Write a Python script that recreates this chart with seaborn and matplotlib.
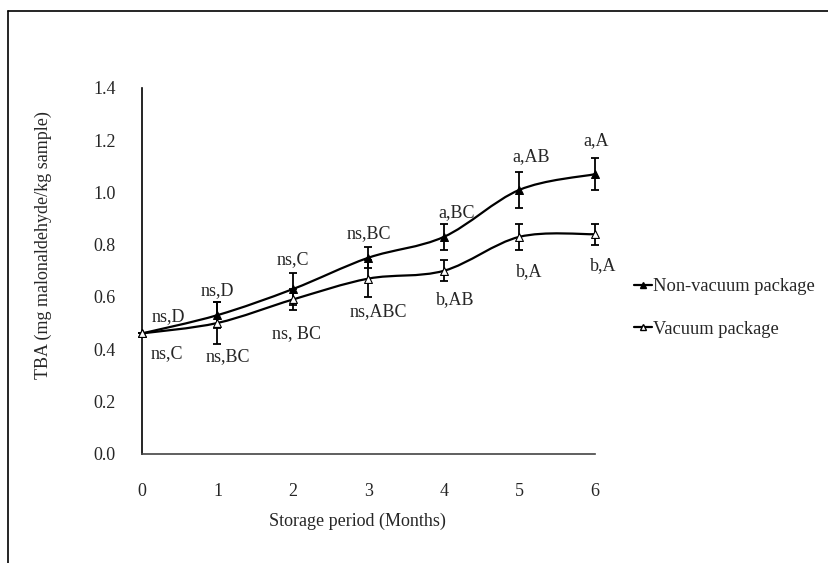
import numpy as np
import pandas as pd
import seaborn as sns
import matplotlib.pyplot as plt
from matplotlib.path import Path
from matplotlib.patches import PathPatch
from matplotlib.lines import Line2D

months = [0, 1, 2, 3, 4, 5, 6]
non_vacuum = [0.46, 0.53, 0.63, 0.75, 0.83, 1.01, 1.07]
non_vacuum_err = [0.0, 0.05, 0.06, 0.04, 0.05, 0.07, 0.06]
vacuum = [0.46, 0.50, 0.59, 0.67, 0.70, 0.83, 0.84]
vacuum_err = [0.0, 0.08, 0.04, 0.07, 0.04, 0.05, 0.04]
non_vacuum_labels = ['ns,D', 'ns,D', 'ns,C', 'ns,BC', 'a,BC', 'a,AB', 'a,A']
vacuum_labels = ['ns,C', 'ns,BC', 'ns, BC', 'ns,ABC', 'b,AB', 'b,A', 'b,A']

# label offsets in pixels from each point
nv_off = [(26, 17), (0, 25), (0, 29), (0, 24), (13, 24), (12, 33), (1, 34)]
v_off = [(25, -20), (10, -34), (4, -34), (10, -33), (11, -29), (10, -35), (8, -31)]

df = pd.DataFrame({'Month': months * 2,
                   'TBA': non_vacuum + vacuum,
                   'Package': ['Non-vacuum package'] * 7 + ['Vacuum package'] * 7})

sns.set_style('white')
plt.rcParams['font.family'] = ['Liberation Serif', 'DejaVu Serif']

fig = plt.figure(figsize=(8.29, 5.63), dpi=100)
ax = fig.add_axes([142 / 829, 1 - 453.5 / 563, (595 - 142) / 829, (453.5 - 88) / 563])


def smooth_path(x, y):
    # excel-like smoothed line (bezier through the points)
    p = np.column_stack([x, y]).astype(float)
    pp = np.vstack([p[0], p, p[-1]])
    verts = [p[0]]
    codes = [Path.MOVETO]
    for i in range(len(p) - 1):
        c1 = pp[i + 1] + (pp[i + 2] - pp[i]) / 6
        c2 = pp[i + 2] - (pp[i + 3] - pp[i + 1]) / 6
        verts += [c1, c2, pp[i + 2]]
        codes += [Path.CURVE4] * 3
    return Path(verts, codes)


for yv in [non_vacuum, vacuum]:
    ax.add_patch(PathPatch(smooth_path(months, yv), fill=False, edgecolor='black', lw=1.6, zorder=2, clip_on=False))

for yv, ye in [(non_vacuum, non_vacuum_err), (vacuum, vacuum_err)]:
    eb = ax.errorbar(months, yv, yerr=ye, fmt='none', ecolor='black', elinewidth=1.3, capsize=3, capthick=1.3, zorder=3)
    for art in eb.lines[1] + eb.lines[2]:
        art.set_clip_on(False)

sns.scatterplot(data=df[df.Package == 'Non-vacuum package'], x='Month', y='TBA', marker='^', color='black',
                edgecolor='black', s=32, linewidth=0.8, ax=ax, zorder=4, legend=False, clip_on=False)
sns.scatterplot(data=df[df.Package == 'Vacuum package'], x='Month', y='TBA', marker='^', color='white',
                edgecolor='black', s=32, linewidth=0.8, ax=ax, zorder=4, legend=False, clip_on=False)

for i in range(7):
    ax.annotate(non_vacuum_labels[i], (months[i], non_vacuum[i]), xytext=nv_off[i], textcoords='offset pixels',
                ha='center', va='center', fontsize=13)
    ax.annotate(vacuum_labels[i], (months[i], vacuum[i]), xytext=v_off[i], textcoords='offset pixels',
                ha='center', va='center', fontsize=13)

ax.set_xlim(0, 6)
ax.set_ylim(0, 1.4)
ax.set_xticks(months)
ax.set_yticks(np.arange(0, 1.41, 0.2))
ax.set_yticklabels([f'{v:.1f}' for v in np.arange(0, 1.41, 0.2)])
for s in ['top', 'right']:
    ax.spines[s].set_visible(False)
for s in ['left', 'bottom']:
    ax.spines[s].set_linewidth(1.2)
    ax.spines[s].set_color('black')
ax.spines['bottom'].set_color('#444444')
ax.tick_params(axis='y', direction='out', length=7, width=1.2, pad=12, labelsize=13)
ax.tick_params(axis='x', direction='out', length=7, width=1.2, pad=14, labelsize=13)
ax.set_xlabel('Storage period (Months)', fontsize=13)
ax.set_ylabel('TBA (mg malonaldehyde/kg sample)', fontsize=13)
ax.xaxis.set_label_coords((357 - 142) / (595 - 142), -(513 - 453.5) / (453.5 - 88))
ax.yaxis.set_label_coords(-(142 - 52) / (595 - 142), (453.5 - 245) / (453.5 - 88))

handles = [Line2D([], [], color='black', lw=1.6, marker='^', markersize=5, markerfacecolor='black'),
           Line2D([], [], color='black', lw=1.6, marker='^', markersize=5, markerfacecolor='white')]
fig.legend(handles, ['Non-vacuum package', 'Vacuum package'], loc='center left',
           bbox_to_anchor=(634 / 829, 1 - 308 / 563), frameon=False, fontsize=13.3,
           handlelength=1.0, handletextpad=0.05, labelspacing=1.4, borderpad=0, borderaxespad=0)

# outer frame (cropped figure border)
fig.add_artist(Line2D([8 / 829, 1], [1 - 11 / 563] * 2, color='black', lw=1.2))
fig.add_artist(Line2D([8 / 829] * 2, [1 - 11 / 563, 0], color='black', lw=1.2))

fig.savefig('out.png', dpi=100)
